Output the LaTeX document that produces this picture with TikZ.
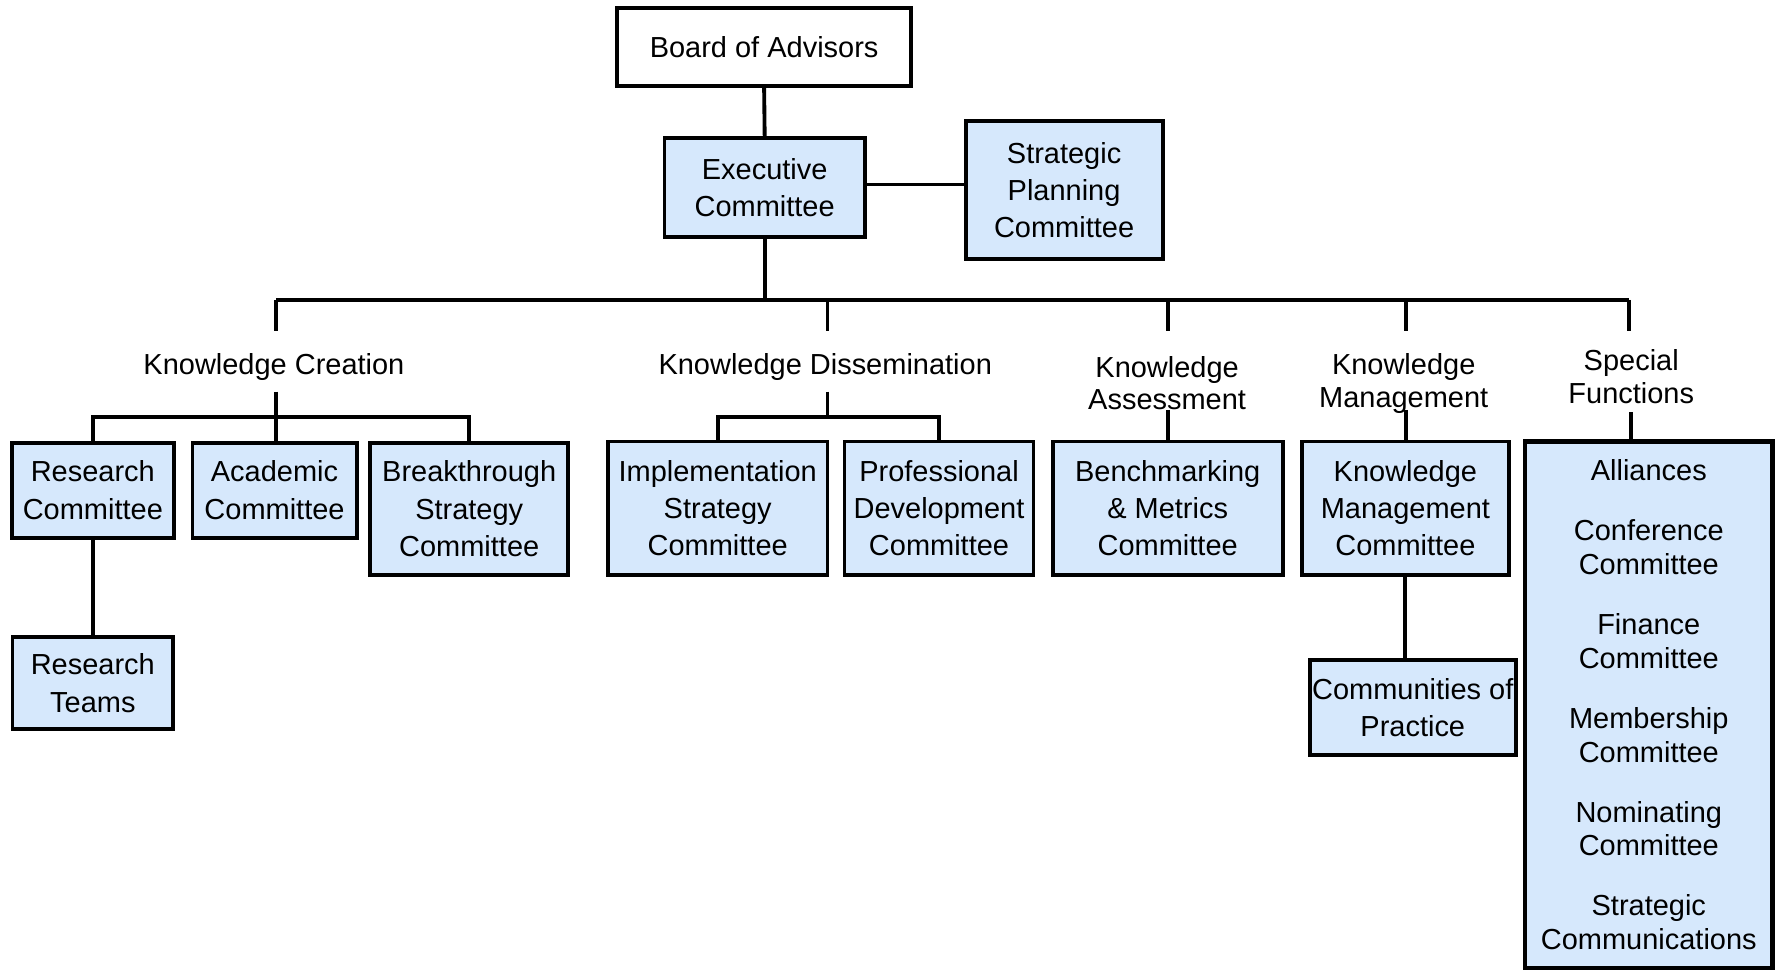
\documentclass[tikz,border=0pt]{standalone}
\usepackage{fontspec}
\setmainfont{Liberation Sans}
\definecolor{boxblue}{RGB}{214,232,252}
\tikzset{
  orgbox/.style={draw=black, line width=1.7pt, fill=boxblue, inner sep=0pt, align=center,
    font=\fontsize{12.8}{16.5}\selectfont},
  grouplabel/.style={inner sep=0pt, align=center, font=\fontsize{12.8}{14.5}\selectfont},
  conn/.style={line width=1.7pt, draw=black},
  bx/.style 2 args={minimum width=#1*0.5pt, minimum height=#2*0.5pt}
}
\begin{document}
\begin{tikzpicture}[x=0.5pt,y=-0.5pt]
\useasboundingbox (0,0) rectangle (1568,856);
% top
\node[orgbox, fill=white, bx={260}{69}] (board) at (675,41.5) {Board of Advisors};
\node[orgbox, bx={177}{87}] (exec) at (675.5,165.5) {Executive\\Committee};
\node[orgbox, bx={174}{122}] (spc) at (940,168) {Strategic\\Planning\\Committee};
% group labels
\node[grouplabel] (kcl) at (242,324) {Knowledge Creation};
\node[grouplabel] (kdl) at (729,324) {Knowledge Dissemination};
\node[grouplabel] (kal) at (1031,338.5) {Knowledge\\Assessment};
\node[grouplabel] (kml) at (1240,338.5) {Knowledge\\Management};
\node[grouplabel] (sfl) at (1441,333) {Special\\Functions};
% boxes
\node[orgbox, bx={143}{84}] (rc) at (82,433) {Research\\Committee};
\node[orgbox, bx={145}{84}] (ac) at (242.5,433) {Academic\\Committee};
\node[orgbox, bx={175}{117}] (bt) at (414.5,449.5) {Breakthrough\\Strategy\\Committee};
\node[orgbox, bx={142}{81}] (rt) at (82,603.5) {Research\\Teams};
\node[orgbox, bx={194}{118}] (isc) at (634,449) {Implementation\\Strategy\\Committee};
\node[orgbox, bx={167}{118}] (pdc) at (829.5,449) {Professional\\Development\\Committee};
\node[orgbox, bx={203}{118}] (bmc) at (1031.5,449) {Benchmarking\\\& Metrics\\Committee};
\node[orgbox, bx={183}{118}] (kmc) at (1241.5,449) {Knowledge\\Management\\Committee};
\node[orgbox, bx={182}{84}] (cop) at (1248,625) {Communities of\\Practice};
\node[orgbox, line width=2pt, bx={219}{465}, font=\fontsize{12.8}{15}\selectfont] (sf) at (1456.5,622.5)
  {Alliances\\[11.5pt]Conference\\Committee\\[11.5pt]Finance\\Committee\\[11.5pt]Membership\\Committee\\[11.5pt]Nominating\\Committee\\[11.5pt]Strategic\\Communications};
% coordinates
\coordinate (busL) at (244,265);
\coordinate (busR) at (1439,265);
\coordinate (d1) at (244,292);
\coordinate (d2) at (731,292);
\coordinate (d3) at (1032,292);
\coordinate (d4) at (1242,292);
\coordinate (d5) at (1439,292);
\coordinate (kcs) at (244,346);
\coordinate (kcbar) at (244,368);
\coordinate (kds) at (731,346);
\coordinate (kdbar) at (731,368);
\coordinate (kas) at (1032,362);
\coordinate (kms) at (1242,362);
\coordinate (sfs) at (1441,364);
\coordinate (spcl) at (764,163);
% connectors
\draw[conn] (board.south) -- (exec.north);
\draw[conn] (spcl) -- (spcl -| spc.west);
\draw[conn] (exec.south) -- (exec.south |- busL);
\draw[conn] (busL) -- (busR);
\foreach \d in {d1,d2,d3,d4,d5} \draw[conn] (\d |- busL) -- (\d);
\draw[conn] (kcs) -- (kcs |- ac.north);
\draw[conn] (rc.north) |- (kcbar) -| (bt.north);
\draw[conn] (rc.south) -- (rt.north);
\draw[conn] (kds) -- (kdbar);
\draw[conn] (isc.north) |- (kdbar) -| (pdc.north);
\draw[conn] (kas) -- (kas |- bmc.north);
\draw[conn] (kms) -- (kms |- kmc.north);
\draw[conn] (kmc.south) -- (kmc.south |- cop.north);
\draw[conn] (sfs) -- (sfs |- sf.north);
\end{tikzpicture}
\end{document}
